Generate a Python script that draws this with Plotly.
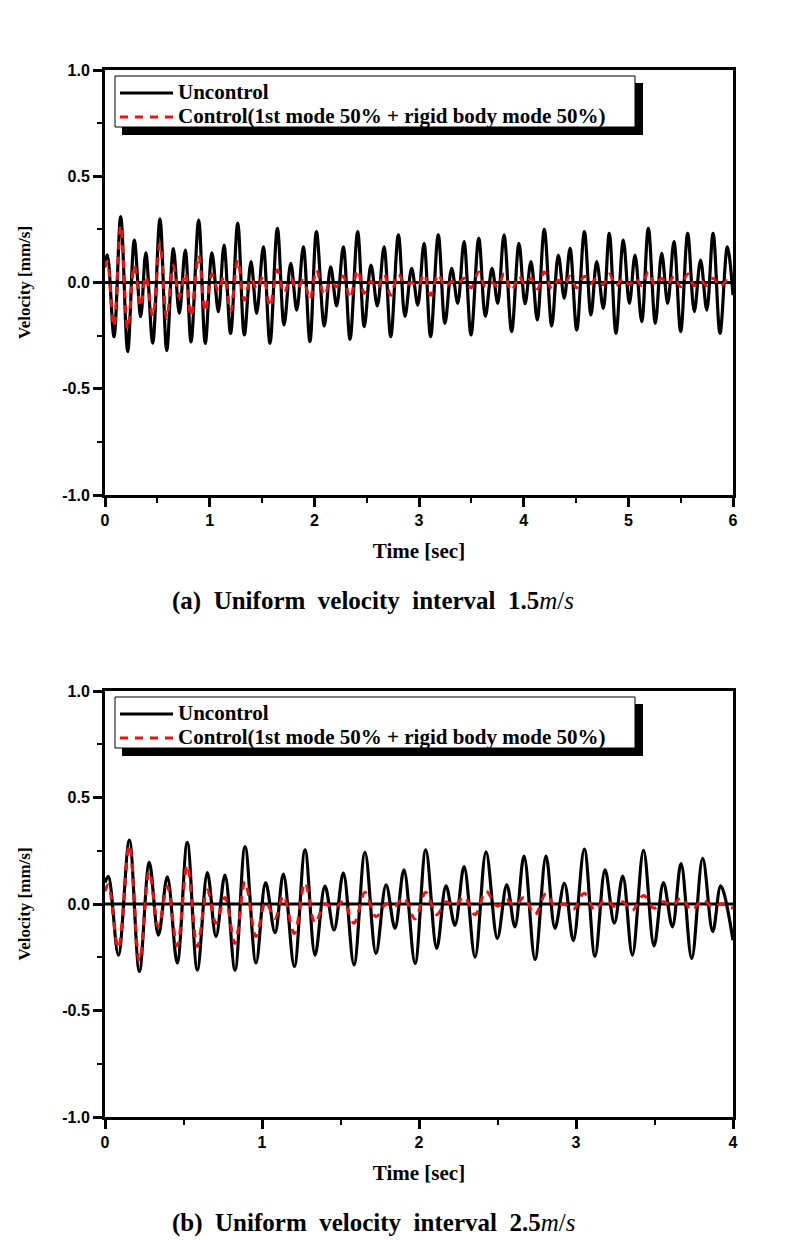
import plotly.graph_objects as go
from plotly.subplots import make_subplots

# (a) 1.5 m/s : turning points (time [s], velocity [mm/s])
time_a = [0.0, 0.022, 0.086, 0.15, 0.217, 0.28, 0.341, 0.39, 0.456, 0.525, 0.59, 0.653, 0.71, 0.767,
          0.822, 0.895, 0.958, 1.022, 1.083, 1.137, 1.20, 1.268, 1.331, 1.395, 1.449, 1.513, 1.576,
          1.647, 1.711, 1.775, 1.832, 1.895, 1.958, 2.02, 2.095, 2.156, 2.213, 2.277, 2.341, 2.414,
          2.477, 2.541, 2.602, 2.666, 2.73, 2.803, 2.866, 2.93, 2.988, 3.048, 3.111, 3.184, 3.248,
          3.312, 3.37, 3.43, 3.497, 3.571, 3.634, 3.698, 3.752, 3.812, 3.885, 3.955, 4.013, 4.07,
          4.13, 4.197, 4.268, 4.331, 4.388, 4.443, 4.507, 4.58, 4.643, 4.698, 4.761, 4.818, 4.882,
          4.952, 5.01, 5.064, 5.128, 5.191, 5.258, 5.319, 5.376, 5.436, 5.5, 5.567, 5.63, 5.69,
          5.75, 5.81, 5.876, 5.946, 6.0]
uncontrol_a = [0.10, 0.13, -0.255, 0.31, -0.325, 0.20, -0.16, 0.14, -0.285, 0.30, -0.32, 0.16, -0.145,
               0.153, -0.28, 0.294, -0.286, 0.139, -0.137, 0.176, -0.24, 0.279, -0.247, 0.098, -0.145,
               0.168, -0.286, 0.255, -0.2, 0.09, -0.13, 0.168, -0.278, 0.239, -0.205, 0.074, -0.11,
               0.168, -0.267, 0.239, -0.208, 0.082, -0.11, 0.168, -0.255, 0.224, -0.16, 0.067, -0.106,
               0.184, -0.255, 0.224, -0.192, 0.067, -0.098, 0.192, -0.247, 0.208, -0.16, 0.067, -0.098,
               0.224, -0.231, 0.184, -0.1, 0.098, -0.176, 0.25, -0.205, 0.129, -0.074, 0.161, -0.224,
               0.239, -0.153, 0.098, -0.122, 0.231, -0.239, 0.2, -0.098, 0.129, -0.184, 0.255, -0.192,
               0.137, -0.098, 0.192, -0.231, 0.231, -0.137, 0.106, -0.13, 0.231, -0.239, 0.168, -0.06]
control_a = [0.07, 0.10, -0.208, 0.27, -0.22, 0.082, -0.114, 0.03, -0.16, 0.184, -0.169, 0.08, -0.067,
             0.045, -0.16, 0.129, -0.137, 0.04, -0.04, 0.03, -0.137, 0.106, -0.082, 0.02, -0.03, 0.03,
             -0.114, 0.059, -0.05, 0.02, -0.03, 0.01, -0.08, 0.059, -0.06, 0.005, -0.02, 0.03, -0.075,
             0.059, -0.05, 0.005, -0.025, 0.04, -0.06, 0.04, -0.01, 0.0, -0.02, 0.04, -0.06, 0.04,
             -0.02, 0.005, -0.01, 0.02, -0.025, 0.05, -0.02, 0.0, -0.02, 0.04, -0.04, 0.03, -0.01,
             0.02, -0.03, 0.05, -0.03, 0.01, -0.01, 0.03, -0.025, 0.03, -0.005, 0.02, -0.01, 0.04,
             -0.015, 0.02, -0.01, 0.02, -0.015, 0.05, -0.015, 0.02, -0.01, 0.03, -0.02, 0.04, -0.015,
             0.01, -0.015, 0.02, -0.02, 0.01, -0.01]

# (b) 2.5 m/s
time_b = [0.0, 0.021, 0.085, 0.155, 0.219, 0.282, 0.34, 0.397, 0.46, 0.524, 0.588, 0.652, 0.707, 0.764,
          0.828, 0.892, 0.962, 1.023, 1.083, 1.136, 1.206, 1.274, 1.338, 1.401, 1.459, 1.518, 1.586,
          1.656, 1.726, 1.79, 1.847, 1.904, 1.975, 2.043, 2.113, 2.172, 2.229, 2.287, 2.357, 2.427,
          2.499, 2.559, 2.611, 2.669, 2.739, 2.809, 2.866, 2.926, 2.983, 3.053, 3.121, 3.185, 3.244,
          3.298, 3.359, 3.43, 3.497, 3.557, 3.614, 3.669, 3.737, 3.807, 3.871, 3.922, 4.0]
uncontrol_b = [0.10, 0.13, -0.24, 0.30, -0.317, 0.195, -0.146, 0.128, -0.277, 0.29, -0.31, 0.147, -0.153,
               0.136, -0.31, 0.27, -0.277, 0.10, -0.135, 0.14, -0.293, 0.254, -0.24, 0.084, -0.122,
               0.145, -0.286, 0.243, -0.232, 0.09, -0.114, 0.16, -0.279, 0.254, -0.208, 0.085, -0.10,
               0.175, -0.25, 0.245, -0.161, 0.09, -0.107, 0.225, -0.26, 0.225, -0.114, 0.097, -0.172,
               0.258, -0.246, 0.16, -0.09, 0.131, -0.24, 0.252, -0.197, 0.10, -0.107, 0.19, -0.256,
               0.214, -0.13, 0.085, -0.17]
control_b = [0.06, 0.09, -0.208, 0.277, -0.27, 0.153, -0.107, 0.083, -0.197, 0.183, -0.2, 0.066, -0.09,
             0.03, -0.185, 0.105, -0.153, 0.01, -0.067, 0.04, -0.138, 0.10, -0.09, 0.0, -0.02, 0.01,
             -0.09, 0.055, -0.06, 0.0, -0.01, 0.03, -0.07, 0.055, -0.05, 0.01, -0.01, 0.035, -0.05,
             0.06, -0.01, 0.02, -0.01, 0.03, -0.05, 0.05, -0.01, 0.0, -0.025, 0.05, -0.03, 0.02, -0.01,
             0.01, -0.03, 0.04, -0.02, 0.01, -0.01, 0.03, -0.03, 0.02, -0.015, 0.0, -0.02]

y_ticks = [-1.0, -0.5, 0.0, 0.5, 1.0]
y_tick_labels = ["-1.0", "-0.5", "0.0", "0.5", "1.0"]

names = ["Uncontrol", "Control(1st mode 50% + rigid body mode 50%)"]
captions = ["<b>(a)\u00a0 Uniform\u00a0 velocity\u00a0 interval\u00a0 1.5</b><i>m</i>/<i>s</i>",
            "<b>(b)\u00a0 Uniform\u00a0 velocity\u00a0 interval\u00a0 2.5</b><i>m</i>/<i>s</i>"]

# the page body has an 8px margin, so the figure is drawn from (8, 8)
OFF = 8
W, H = 790 - OFF, 1240 - OFF
SERIF = "Liberation Serif, Times New Roman, serif"
SANS = "Liberation Sans, Arial, sans-serif"
BLACK_LINE = dict(color="black", width=3.2)
RED_LINE = dict(color="#ee1111", width=3, dash="8px,7px")


def px(x):
    return (x - OFF) / W


def py(y):
    return 1 - (y - OFF) / H


fig = make_subplots(rows=2, cols=1)

panels = [(time_a, uncontrol_a, control_a), (time_b, uncontrol_b, control_b)]
for i, (t, unc, ctl) in enumerate(panels, start=1):
    fig.add_trace(go.Scatter(x=t, y=unc, name=names[0], mode="lines", showlegend=False,
                             line=dict(shape="spline", smoothing=1.0, **BLACK_LINE)),
                  row=i, col=1)
    fig.add_trace(go.Scatter(x=t, y=ctl, name=names[1], mode="lines", showlegend=False,
                             line=dict(shape="spline", smoothing=1.0, **RED_LINE)),
                  row=i, col=1)

# plot frames in window pixels: (top, bottom)
frames = [(70, 495), (691, 1117)]
x_ranges = [[0, 6], [0, 4]]

axis_common = dict(showline=True, linewidth=3, linecolor="black", mirror=True,
                   ticks="outside", ticklen=9, tickwidth=2.5, tickcolor="black",
                   showgrid=False, zeroline=False, automargin=False,
                   tickfont=dict(family=SANS, size=16, color="black", weight="bold"))

for i, ((top, bot), xr) in enumerate(zip(frames, x_ranges), start=1):
    fig.update_xaxes(row=i, col=1, range=xr, dtick=1, domain=[px(105), px(733)],
                     minor=dict(dtick=0.5, ticks="outside", ticklen=5, tickwidth=2, tickcolor="black"),
                     title=dict(text="Time [sec]", standoff=16,
                                font=dict(family=SERIF, size=21, color="black", weight="bold")),
                     **axis_common)
    fig.update_yaxes(row=i, col=1, range=[-1.0, 1.0], tickmode="array",
                     tickvals=y_ticks, ticktext=y_tick_labels,
                     domain=[py(bot), py(top)],
                     minor=dict(dtick=0.25, ticks="outside", ticklen=5, tickwidth=2, tickcolor="black"),
                     title=dict(text="Velocity [mm/s]", standoff=28,
                                font=dict(family=SERIF, size=17, color="black", weight="bold")),
                     **axis_common)

shapes = []
annotations = []
for i, (top, bot) in enumerate(frames):
    xref = "x domain" if i == 0 else "x2 domain"
    yref = "y" if i == 0 else "y2"
    # zero reference line
    shapes.append(dict(type="line", xref=xref, yref=yref, x0=0, x1=1, y0=0, y1=0,
                       line=dict(color="black", width=3), layer="below"))
    # legend box with drop shadow
    shapes.append(dict(type="rect", xref="paper", yref="paper",
                       x0=px(122), x1=px(643), y0=py(top + 13), y1=py(top + 65),
                       fillcolor="black", line=dict(width=0), layer="above"))
    shapes.append(dict(type="rect", xref="paper", yref="paper",
                       x0=px(115), x1=px(635), y0=py(top + 6), y1=py(top + 57),
                       fillcolor="white", line=dict(color="black", width=1), layer="above"))
    # legend keys and labels
    for row, (name, style) in enumerate(zip(names, [BLACK_LINE, RED_LINE])):
        yrow = top + 23 + 24 * row
        shapes.append(dict(type="line", xref="paper", yref="paper",
                           x0=px(120), x1=px(173), y0=py(yrow), y1=py(yrow),
                           line=style, layer="above"))
        annotations.append(dict(text=name, xref="paper", yref="paper",
                                x=px(176), y=py(yrow - 1), xanchor="left", yanchor="middle",
                                showarrow=False,
                                font=dict(family=SERIF, size=21, color="black", weight="bold")))
    annotations.append(dict(text=captions[i], xref="paper", yref="paper",
                            x=px(373), y=py(bot + 106), xanchor="center", yanchor="middle",
                            showarrow=False,
                            font=dict(family=SERIF, size=25, color="black")))

fig.update_layout(
    width=W, height=H,
    margin=dict(l=0, r=0, t=0, b=0),
    paper_bgcolor="white", plot_bgcolor="white",
    shapes=shapes, annotations=annotations,
    showlegend=False,
)

fig.write_html("out.html")
